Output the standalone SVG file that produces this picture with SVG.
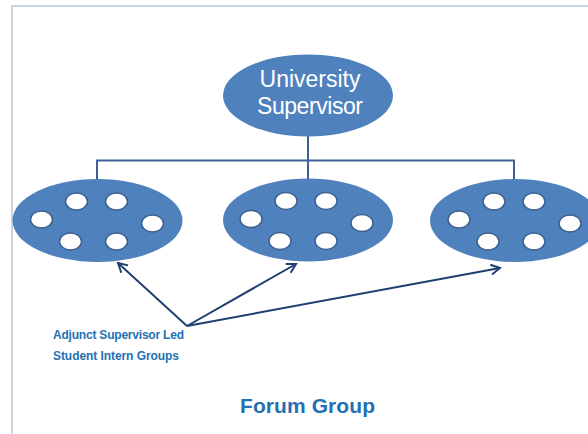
<svg xmlns="http://www.w3.org/2000/svg" width="588" height="434" viewBox="0 0 588 434">
<style>
.big{fill:#4f81bd;}
.dot{fill:#ffffff;stroke:#3c5f8e;stroke-width:1.5;}
.conn{fill:none;stroke:#3d5f93;stroke-width:2;}
.arr{fill:none;stroke:#203f70;stroke-width:2;}
.lbl{font-family:"Liberation Sans",Arial,sans-serif;font-weight:bold;fill:#2470b3;}
.wt{font-family:"Liberation Sans",Arial,sans-serif;fill:#ffffff;font-size:23px;text-anchor:middle;}
</style>
<defs>
<marker id="ah" markerUnits="userSpaceOnUse" markerWidth="14" markerHeight="14" viewBox="0 0 14 14" refX="12" refY="7" orient="auto">
<path d="M3,2 L12,7 L3,12" fill="none" stroke="#203f70" stroke-width="2"/>
</marker>
<g id="dots">
<ellipse class="dot" cx="-56" cy="-1" rx="11" ry="8.5"/>
<ellipse class="dot" cx="-21" cy="-19" rx="11" ry="8.5"/>
<ellipse class="dot" cx="19" cy="-19" rx="11" ry="8.5"/>
<ellipse class="dot" cx="55" cy="3" rx="11" ry="8.5"/>
<ellipse class="dot" cx="-27" cy="21" rx="11" ry="8.5"/>
<ellipse class="dot" cx="19" cy="21" rx="11" ry="8.5"/>
</g>
</defs>
<rect width="588" height="434" fill="#ffffff"/>
<path d="M12,434 V6 H588" fill="none" stroke="#b8c9d3" stroke-width="1.5"/>
<g id="connectors">
<path class="conn" d="M308,136 V160.5 M97,180 V160.5 H514 V180 M308,160.5 V179"/>
<line class="arr" x1="187" y1="326" x2="118" y2="263" marker-end="url(#ah)"/>
<line class="arr" x1="187" y1="326" x2="296" y2="264" marker-end="url(#ah)"/>
<line class="arr" x1="187" y1="326" x2="500" y2="268" marker-end="url(#ah)"/>
</g>
<g id="university-supervisor">
<ellipse class="big" cx="308" cy="95.5" rx="85" ry="41"/>
<text class="wt" x="310" y="87">University</text>
<text class="wt" x="310" y="114" textLength="106">Supervisor</text>
</g>
<g id="group-left">
<ellipse class="big" cx="97.5" cy="220.5" rx="85" ry="41.5"/>
<use href="#dots" x="97.5" y="220.5"/>
</g>
<g id="group-middle">
<ellipse class="big" cx="308" cy="220" rx="85" ry="41.5"/>
<use href="#dots" x="307" y="220"/>
</g>
<g id="group-right">
<ellipse class="big" cx="515" cy="220.5" rx="85" ry="41.5"/>
<use href="#dots" x="515" y="220.5"/>
</g>
<g id="label">
<text class="lbl" x="53" y="339" font-size="12" textLength="131">Adjunct Supervisor Led</text>
<text class="lbl" x="53" y="360" font-size="12" textLength="126">Student Intern Groups</text>
</g>
<g id="title">
<text class="lbl" x="240" y="413" font-size="21" textLength="135">Forum Group</text>
</g>
</svg>
